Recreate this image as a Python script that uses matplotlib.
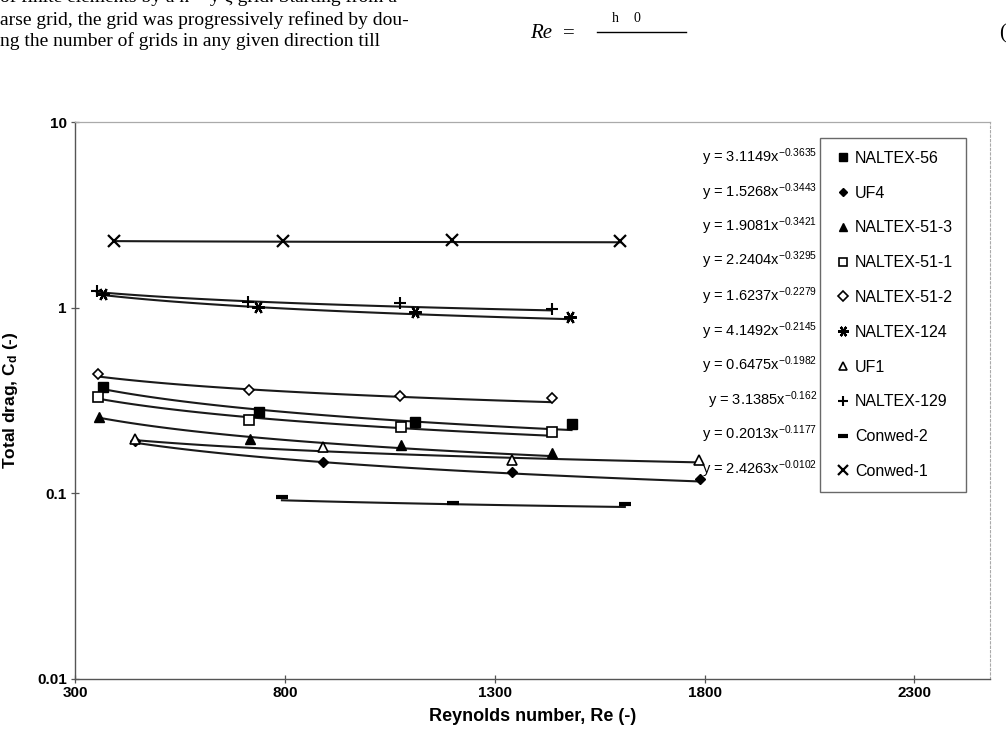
import numpy as np
import matplotlib
matplotlib.use("Agg")
import matplotlib.pyplot as plt

plt.rcParams['font.family'] = ['Liberation Sans', 'DejaVu Sans']
plt.rcParams['mathtext.fontset'] = 'custom'
plt.rcParams['mathtext.rm'] = 'Liberation Sans'
plt.rcParams['mathtext.it'] = 'Liberation Sans:italic'
plt.rcParams['mathtext.bf'] = 'Liberation Sans:bold'

# ---------------- data ----------------
series_names = ['NALTEX-56', 'UF4', 'NALTEX-51-3', 'NALTEX-51-1', 'NALTEX-51-2',
                'NALTEX-124', 'UF1', 'NALTEX-129', 'Conwed-2', 'Conwed-1']

re_naltex56 = [367, 738, 1111, 1483]
cd_naltex56 = [0.375, 0.273, 0.241, 0.237]
re_uf4 = [443, 890, 1340, 1788]
cd_uf4 = [0.192, 0.147, 0.131, 0.120]
re_naltex513 = [357, 717, 1076, 1436]
cd_naltex513 = [0.259, 0.197, 0.182, 0.164]
re_naltex511 = [355, 714, 1076, 1436]
cd_naltex511 = [0.330, 0.249, 0.228, 0.215]
re_naltex512 = [355, 714, 1074, 1436]
cd_naltex512 = [0.440, 0.362, 0.335, 0.328]
re_naltex124 = [367, 736, 1110, 1479]
cd_naltex124 = [1.19, 1.012, 0.943, 0.886]
re_uf1 = [443, 890, 1340, 1786]
cd_uf1 = [0.197, 0.177, 0.152, 0.152]
re_naltex129 = [352, 712, 1074, 1436]
cd_naltex129 = [1.235, 1.077, 1.055, 0.984]
re_conwed2 = [793, 1200, 1610]
cd_conwed2 = [0.095, 0.089, 0.088]
re_conwed1 = [393, 795, 1198, 1598]
cd_conwed1 = [2.30, 2.30, 2.31, 2.30]

# power-law trendline coefficients (y = a x^b), same order as series_names
fit_a = [3.1149, 1.5268, 1.9081, 2.2404, 1.6237, 4.1492, 0.6475, 3.1385, 0.2013, 2.4263]
fit_b = [-0.3635, -0.3443, -0.3421, -0.3295, -0.2279, -0.2145, -0.1982, -0.162, -0.1177, -0.0102]

x_ticks = [300, 800, 1300, 1800, 2300]
y_ticks = [0.01, 0.1, 1, 10]
y_ticklabels = ['0.01', '0.1', '1', '10']

re_data = [re_naltex56, re_uf4, re_naltex513, re_naltex511, re_naltex512,
           re_naltex124, re_uf1, re_naltex129, re_conwed2, re_conwed1]
cd_data = [cd_naltex56, cd_uf4, cd_naltex513, cd_naltex511, cd_naltex512,
           cd_naltex124, cd_uf1, cd_naltex129, cd_conwed2, cd_conwed1]

# marker styles
styles = [
    dict(marker='s', ms=7, mfc='black', mec='black', mew=1),
    dict(marker='D', ms=5, mfc='black', mec='black', mew=1),
    dict(marker='^', ms=7, mfc='black', mec='black', mew=1),
    dict(marker='s', ms=7, mfc='white', mec='black', mew=1.2),
    dict(marker='D', ms=5.5, mfc='white', mec='black', mew=1.2),
    dict(marker=(6, 2, 90), ms=9, mfc='black', mec='black', mew=1.6),
    dict(marker='^', ms=7, mfc='white', mec='black', mew=1.2),
    dict(marker='+', ms=9, mfc='black', mec='black', mew=1.5),
    dict(marker='_', ms=9, mfc='black', mec='black', mew=3),
    dict(marker='x', ms=8, mfc='black', mec='black', mew=1.6),
]

W, H = 1006, 742
fig = plt.figure(figsize=(W / 100, H / 100), dpi=100)
L, R, T, B = 75, 990, 122, 679
ax = fig.add_axes([L / W, 1 - B / H, (R - L) / W, (B - T) / H])
ax.set_yscale('log')
ax.set_xlim(300, 2480)
ax.set_ylim(0.01, 10)

handles = []
for name, xs, ys, a, b, st in zip(series_names, re_data, cd_data, fit_a, fit_b, styles):
    xx = np.linspace(min(xs), max(xs), 100)
    ax.plot(xx, a * xx ** b, color='#1a1a1a', lw=1.5, zorder=2)
    h, = ax.plot(xs, ys, linestyle='none', zorder=3, label=name, **st)
    handles.append(h)

ax.set_xticks(x_ticks)
ax.set_xticklabels([str(v) for v in x_ticks], fontsize=11, fontweight='bold')
ax.set_yticks(y_ticks)
ax.set_yticklabels(y_ticklabels, fontsize=11, fontweight='bold')
ax.yaxis.set_minor_locator(matplotlib.ticker.NullLocator())
ax.tick_params(axis='both', direction='inout', length=6, width=0.9, color='#555555')
ax.tick_params(axis='x', pad=2)
ax.tick_params(axis='y', pad=3)

for s in ['left', 'bottom']:
    ax.spines[s].set_color('#555555')
    ax.spines[s].set_linewidth(1.0)
ax.spines['top'].set_color('#aaaaaa')
ax.spines['top'].set_linewidth(0.9)
ax.spines['right'].set_color('#aaaaaa')
ax.spines['right'].set_linewidth(0.8)
ax.spines['right'].set_linestyle((0, (2, 2)))

ax.set_xlabel('Reynolds number, Re (-)', fontsize=13, fontweight='bold', labelpad=6)
ax.set_ylabel('Total drag, C$_\\mathbf{d}$ (-)', fontsize=12.5, fontweight='bold', labelpad=12)

# trendline equations
row_y = [157, 192, 226.5, 260.5, 296, 331, 365, 400, 434, 469]
for a, b, yy in zip(fit_a, fit_b, row_y):
    txt = 'y = %gx$^{%s}$' % (a, ('%g' % b).replace('-', '\u2212'))
    fig.text(817 / W, 1 - yy / H, txt, ha='right', va='center', fontsize=10.5)

leg = fig.legend(handles, series_names, loc='upper left',
                 bbox_to_anchor=(820 / W, 1 - 138 / H), frameon=True, fancybox=False,
                 edgecolor='#444444', fontsize=11.5, handlelength=1.3, handletextpad=0.1,
                 labelspacing=1.24, borderpad=0.8, borderaxespad=0, markerscale=0.85)
leg.get_frame().set_linewidth(1.0)

# surrounding page text (scan of the paper)
serif = ['Liberation Serif', 'DejaVu Serif']
fig.text(0, 1 - (-3) / H, 'of finite elements by a n \u00d7 y \u03b6 grid. Starting from a',
         family=serif, fontsize=14, ha='left', va='center')
fig.text(0, 1 - 20 / H, 'arse grid, the grid was progressively refined by dou-',
         family=serif, fontsize=14, ha='left', va='center')
fig.text(0, 1 - 41 / H, 'ng the number of grids in any given direction till',
         family=serif, fontsize=14, ha='left', va='center')
fig.text(530 / W, 1 - 34 / H, 'Re', family=serif, style='italic', fontsize=15, ha='left', va='center')
fig.text(563 / W, 1 - 34 / H, '=', family=serif, fontsize=15, ha='left', va='center')
fig.text(612 / W, 1 - 19 / H, 'h', family=serif, fontsize=10, ha='left', va='center')
fig.text(634 / W, 1 - 19 / H, '0', family=serif, fontsize=10, ha='left', va='center')
fig.add_artist(plt.Line2D([597 / W, 686 / W], [1 - 32 / H, 1 - 32 / H], color='black', lw=1))
fig.text(999 / W, 1 - 34 / H, '(', family=serif, fontsize=15, ha='left', va='center')

fig.savefig('out.png', dpi=100)
